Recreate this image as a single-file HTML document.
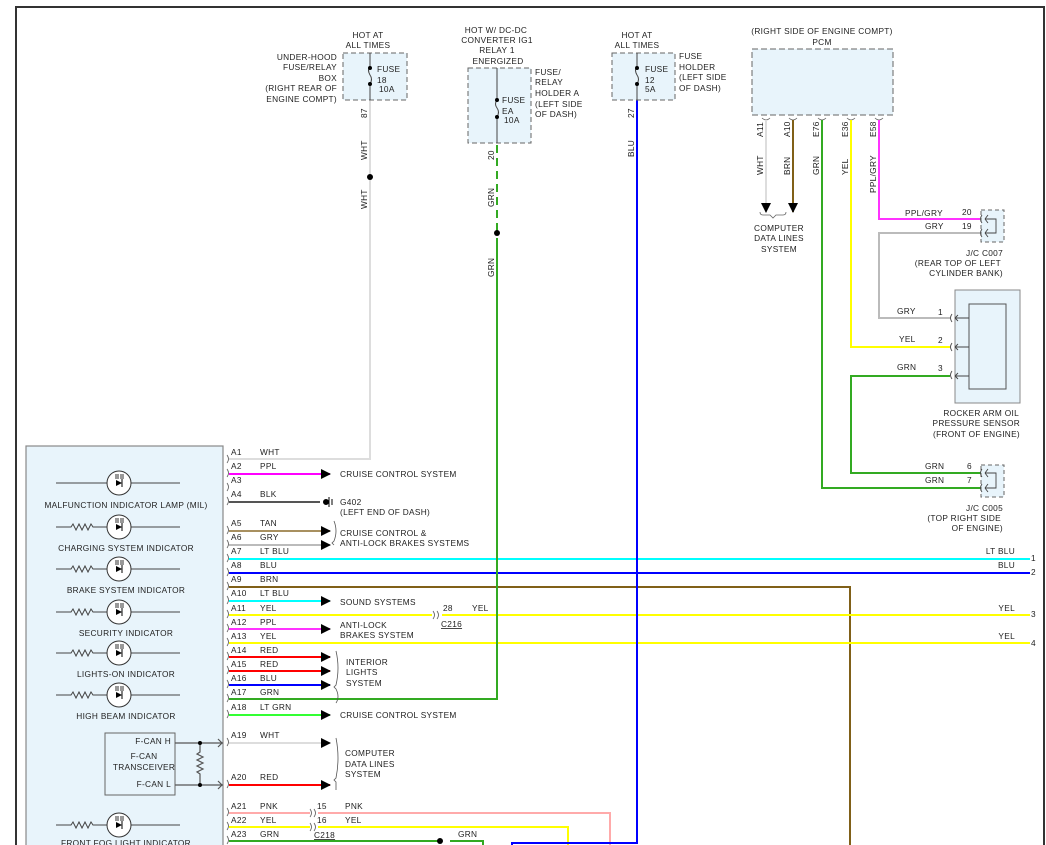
<!DOCTYPE html>
<html><head><meta charset="utf-8"><style>
html,body{margin:0;padding:0;background:#fff;}
svg{display:block;}
text{font-family:"Liberation Sans",sans-serif;font-size:8.3px;fill:#222;letter-spacing:0.3px;}
</style></head><body>
<svg width="1046" height="845" viewBox="0 0 1046 845" xmlns="http://www.w3.org/2000/svg">
<defs>
<marker id="ar" markerWidth="10" markerHeight="10" refX="9" refY="5" orient="auto" markerUnits="userSpaceOnUse"><path d="M0,0 L10,5 L0,10 Z" fill="#000"/></marker>
<g id="led"><circle r="12" fill="none" stroke="#333" stroke-width="1"/><path d="M-3,-3 L3,0 L-3,3 Z" fill="#000"/><line x1="3" y1="-4" x2="3" y2="4" stroke="#000"/><path d="M-3,-9 v5 M-1,-9 v5 M2,-9 v5 M4,-9 v5" stroke="#000" stroke-width="0.8"/></g>
</defs>
<!-- frame -->
<path d="M16,845 V7 H1044 V845" fill="none" stroke="#333" stroke-width="2"/>

<!-- left module -->
<rect x="26" y="446" width="197" height="405" fill="#e8f4fb" stroke="#888" stroke-width="1.2"/>
<g stroke="#444" stroke-width="1" fill="none">
<line x1="56" y1="483" x2="180" y2="483"/>
<path d="M56,527 H71 l2,-3 3,6 3,-6 3,6 3,-6 3,6 3,-6 2,3 H180"/>
<path d="M56,569 H71 l2,-3 3,6 3,-6 3,6 3,-6 3,6 3,-6 2,3 H180"/>
<path d="M56,612 H71 l2,-3 3,6 3,-6 3,6 3,-6 3,6 3,-6 2,3 H180"/>
<path d="M56,653 H71 l2,-3 3,6 3,-6 3,6 3,-6 3,6 3,-6 2,3 H180"/>
<path d="M56,695 H71 l2,-3 3,6 3,-6 3,6 3,-6 3,6 3,-6 2,3 H180"/>
<path d="M56,825 H71 l2,-3 3,6 3,-6 3,6 3,-6 3,6 3,-6 2,3 H180"/>
</g>
<g fill="#fff"><circle cx="119" cy="483" r="12"/><circle cx="119" cy="527" r="12"/><circle cx="119" cy="569" r="12"/><circle cx="119" cy="612" r="12"/><circle cx="119" cy="653" r="12"/><circle cx="119" cy="695" r="12"/><circle cx="119" cy="825" r="12"/></g>
<use href="#led" x="119" y="483"/><use href="#led" x="119" y="527"/><use href="#led" x="119" y="569"/><use href="#led" x="119" y="612"/><use href="#led" x="119" y="653"/><use href="#led" x="119" y="695"/><use href="#led" x="119" y="825"/>
<g text-anchor="middle">
<text x="126" y="508">MALFUNCTION INDICATOR LAMP (MIL)</text>
<text x="126" y="551">CHARGING SYSTEM INDICATOR</text>
<text x="126" y="593">BRAKE SYSTEM INDICATOR</text>
<text x="126" y="636">SECURITY INDICATOR</text>
<text x="126" y="677">LIGHTS-ON INDICATOR</text>
<text x="126" y="719">HIGH BEAM INDICATOR</text>
<text x="126" y="846">FRONT FOG LIGHT INDICATOR</text>
</g>
<rect x="105" y="733" width="70" height="62" fill="#e8f4fb" stroke="#666"/>
<text x="171" y="744" text-anchor="end">F-CAN H</text>
<text x="144" y="759" text-anchor="middle">F-CAN</text>
<text x="144" y="770" text-anchor="middle">TRANSCEIVER</text>
<text x="171" y="787" text-anchor="end">F-CAN L</text>
<g stroke="#555" stroke-width="1.2" fill="none">
<line x1="175" y1="743" x2="223" y2="743"/><line x1="175" y1="785" x2="223" y2="785"/>
<path d="M200,743 V752 l-3,2 6,3 -6,3 6,3 -6,3 6,3 -6,3 3,2 V785"/>
<path d="M218,739 l4,4 -4,4 M218,781 l4,4 -4,4"/>
</g>
<circle cx="200" cy="743" r="2" fill="#000"/><circle cx="200" cy="785" r="2" fill="#000"/>

<!-- pin brackets -->
<g stroke="#555" fill="none" stroke-width="0.8">
<path d="M227,455 q3,4 0,8 M227,469 q3,4 0,8 M227,483 q3,4 0,8 M227,497 q3,4 0,8 M227,526 q3,4 0,8 M227,540 q3,4 0,8 M227,554 q3,4 0,8 M227,568 q3,4 0,8 M227,582 q3,4 0,8 M227,596 q3,4 0,8 M227,610 q3,4 0,8 M227,624 q3,4 0,8 M227,638 q3,4 0,8 M227,652 q3,4 0,8 M227,666 q3,4 0,8 M227,680 q3,4 0,8 M227,694 q3,4 0,8 M227,710 q3,4 0,8 M227,738 q3,4 0,8 M227,780 q3,4 0,8 M227,808 q3,4 0,8 M227,822 q3,4 0,8 M227,836 q3,4 0,8"/>
</g>
<!-- pin labels -->
<g>
<text x="231" y="455">A1</text><text x="260" y="455">WHT</text>
<text x="231" y="469">A2</text><text x="260" y="469">PPL</text>
<text x="231" y="483">A3</text>
<text x="231" y="497">A4</text><text x="260" y="497">BLK</text>
<text x="231" y="526">A5</text><text x="260" y="526">TAN</text>
<text x="231" y="540">A6</text><text x="260" y="540">GRY</text>
<text x="231" y="554">A7</text><text x="260" y="554">LT BLU</text>
<text x="231" y="568">A8</text><text x="260" y="568">BLU</text>
<text x="231" y="582">A9</text><text x="260" y="582">BRN</text>
<text x="231" y="596">A10</text><text x="260" y="596">LT BLU</text>
<text x="231" y="611">A11</text><text x="260" y="611">YEL</text>
<text x="231" y="625">A12</text><text x="260" y="625">PPL</text>
<text x="231" y="639">A13</text><text x="260" y="639">YEL</text>
<text x="231" y="653">A14</text><text x="260" y="653">RED</text>
<text x="231" y="667">A15</text><text x="260" y="667">RED</text>
<text x="231" y="681">A16</text><text x="260" y="681">BLU</text>
<text x="231" y="695">A17</text><text x="260" y="695">GRN</text>
<text x="231" y="710">A18</text><text x="260" y="710">LT GRN</text>
<text x="231" y="738">A19</text><text x="260" y="738">WHT</text>
<text x="231" y="780">A20</text><text x="260" y="780">RED</text>
<text x="231" y="809">A21</text><text x="260" y="809">PNK</text>
<text x="231" y="823">A22</text><text x="260" y="823">YEL</text>
<text x="231" y="837">A23</text><text x="260" y="837">GRN</text>
</g>

<!-- wires -->
<g fill="none" stroke-width="2">
<path d="M229,459 H370 V100" stroke="#ddd"/>
<path d="M229,474 H330" stroke="#ff00ff" marker-end="url(#ar)"/>
<path d="M229,502 H320" stroke="#555"/>
<path d="M229,531 H330" stroke="#a89060" marker-end="url(#ar)"/>
<path d="M229,545 H330" stroke="#bbb" marker-end="url(#ar)"/>
<path d="M229,559 H1030" stroke="#00ffff"/>
<path d="M229,573 H1030" stroke="#0000ff"/>
<path d="M229,587 H850 V845" stroke="#806018"/>
<path d="M229,601 H330" stroke="#00ffff" marker-end="url(#ar)"/>
<path d="M229,615 H432 M442,615 H1030" stroke="#ffff00"/>
<path d="M229,629 H330" stroke="#ff33ff" marker-end="url(#ar)"/>
<path d="M229,643 H1030" stroke="#ffff00"/>
<path d="M229,657 H330" stroke="#ff0000" marker-end="url(#ar)"/>
<path d="M229,671 H330" stroke="#ff0000" marker-end="url(#ar)"/>
<path d="M229,685 H330" stroke="#0000ff" marker-end="url(#ar)"/>
<path d="M229,699 H497 V238" stroke="#33aa22"/>
<path d="M497,145 V233" stroke="#33aa22" stroke-dasharray="8,5"/>
<path d="M229,715 H330" stroke="#33ff33" marker-end="url(#ar)"/>
<path d="M229,743 H330" stroke="#ddd" marker-end="url(#ar)"/>
<path d="M229,785 H330" stroke="#ff0000" marker-end="url(#ar)"/>
<path d="M229,813 H310 M318,813 H610 V845" stroke="#ffaaaa"/>
<path d="M229,827 H310 M318,827 H568 V845" stroke="#ffff00"/>
<path d="M229,841 H440 M450,841 H483 V845" stroke="#33aa22"/>
<path d="M512,845 V843 H637 V100" stroke="#0000ff"/>
<path d="M370,100 V459" stroke="#ddd" stroke-dasharray="8,5"/>
</g>
<circle cx="370" cy="177" r="3" fill="#000"/>
<circle cx="497" cy="233" r="3" fill="#000"/>
<circle cx="440" cy="841" r="3" fill="#000"/>
<!-- ground -->
<g stroke="#000" stroke-width="1"><circle cx="326" cy="502" r="2.5" fill="#000"/><line x1="329" y1="497" x2="329" y2="507"/><line x1="332" y1="499" x2="332" y2="505"/></g>
<!-- inline connector marks -->
<g stroke="#555" fill="none" stroke-width="0.8">
<path d="M433,611 q3,4 0,8 M437,611 q3,4 0,8 M310,809 q3,4 0,8 M314,809 q3,4 0,8 M310,823 q3,4 0,8 M314,823 q3,4 0,8"/>
<path d="M334,521 q4,10 0,20 l-2,2 2,2 M336,651 q4,17 0,34 l-2,2 2,2 q4,8 0,14 M336,738 q4,20 0,40 l-2,2 2,2 q-0,5 0,8"/>
</g>
<text x="340" y="477">CRUISE CONTROL SYSTEM</text>
<text x="340" y="505">G402</text><text x="340" y="515">(LEFT END OF DASH)</text>
<text x="340" y="536">CRUISE CONTROL &amp;</text><text x="340" y="546">ANTI-LOCK BRAKES SYSTEMS</text>
<text x="340" y="605">SOUND SYSTEMS</text>
<text x="443" y="611">28</text><text x="472" y="611">YEL</text><text x="441" y="627" text-decoration="underline">C216</text>
<text x="340" y="628">ANTI-LOCK</text><text x="340" y="638">BRAKES SYSTEM</text>
<text x="346" y="665">INTERIOR</text><text x="346" y="675">LIGHTS</text><text x="346" y="686">SYSTEM</text>
<text x="340" y="718">CRUISE CONTROL SYSTEM</text>
<text x="345" y="756">COMPUTER</text><text x="345" y="767">DATA LINES</text><text x="345" y="777">SYSTEM</text>
<text x="317" y="809">15</text><text x="345" y="809">PNK</text>
<text x="317" y="823">16</text><text x="345" y="823">YEL</text>
<text x="314" y="838" text-decoration="underline">C218</text>
<text x="458" y="837">GRN</text>
<g text-anchor="end">
<text x="1015" y="554">LT BLU</text><text x="1015" y="568">BLU</text>
<text x="1015" y="611">YEL</text><text x="1015" y="639">YEL</text>
</g>
<text x="1031" y="561">1</text><text x="1031" y="575">2</text><text x="1031" y="617">3</text><text x="1031" y="646">4</text>

<!-- fuse 18 -->
<rect x="343" y="53" width="64" height="47" fill="#e8f4fb" stroke="#666" stroke-dasharray="5,3"/>
<path d="M370,53 V66 M370,84 V100" stroke="#444"/><path d="M370,66 q-3,4 0,9 q3,4 0,9" stroke="#444" fill="none"/>
<circle cx="370" cy="68" r="2" fill="#000"/><circle cx="370" cy="84" r="2" fill="#000"/>
<text x="377" y="72">FUSE</text><text x="377" y="83">18</text><text x="379" y="92">10A</text>
<g text-anchor="middle"><text x="368" y="38">HOT AT</text><text x="368" y="48">ALL TIMES</text></g>
<g text-anchor="end"><text x="337" y="60">UNDER-HOOD</text><text x="337" y="70">FUSE/RELAY</text><text x="337" y="81">BOX</text><text x="337" y="91">(RIGHT REAR OF</text><text x="337" y="102">ENGINE COMPT)</text></g>
<g transform="rotate(-90)"><text x="-118" y="367">87</text><text x="-160" y="367">WHT</text><text x="-209" y="367">WHT</text>
<text x="-160" y="494">20</text><text x="-207" y="494">GRN</text><text x="-277" y="494">GRN</text>
<text x="-118" y="634">27</text><text x="-157" y="634">BLU</text></g>

<!-- fuse EA -->
<rect x="468" y="68" width="63" height="75" fill="#e8f4fb" stroke="#666" stroke-dasharray="5,3"/>
<path d="M497,68 V100 M497,117 V143" stroke="#444"/><path d="M497,100 q-3,4 0,8 q3,4 0,9" stroke="#444" fill="none"/>
<circle cx="497" cy="100" r="2" fill="#000"/><circle cx="497" cy="117" r="2" fill="#000"/>
<text x="502" y="103">FUSE</text><text x="502" y="114">EA</text><text x="504" y="123">10A</text>
<g text-anchor="middle"><text x="496" y="33">HOT W/ DC-DC</text><text x="497" y="43">CONVERTER IG1</text><text x="497" y="53">RELAY 1</text><text x="498" y="64">ENERGIZED</text></g>
<text x="535" y="75">FUSE/</text><text x="535" y="85">RELAY</text><text x="535" y="96">HOLDER A</text><text x="535" y="107">(LEFT SIDE</text><text x="535" y="117">OF DASH)</text>

<!-- fuse 12 -->
<rect x="612" y="53" width="63" height="47" fill="#e8f4fb" stroke="#666" stroke-dasharray="5,3"/>
<path d="M637,53 V66 M637,84 V100" stroke="#444"/><path d="M637,66 q-3,4 0,9 q3,4 0,9" stroke="#444" fill="none"/>
<circle cx="637" cy="68" r="2" fill="#000"/><circle cx="637" cy="84" r="2" fill="#000"/>
<text x="645" y="72">FUSE</text><text x="645" y="83">12</text><text x="645" y="92">5A</text>
<g text-anchor="middle"><text x="637" y="38">HOT AT</text><text x="637" y="48">ALL TIMES</text></g>
<text x="679" y="59">FUSE</text><text x="679" y="70">HOLDER</text><text x="679" y="80">(LEFT SIDE</text><text x="679" y="91">OF DASH)</text>

<!-- PCM -->
<g text-anchor="middle"><text x="822" y="34">(RIGHT SIDE OF ENGINE COMPT)</text><text x="822" y="45">PCM</text></g>
<rect x="752" y="49" width="141" height="66" fill="#e8f4fb" stroke="#666" stroke-dasharray="6,3"/>
<g stroke="#666" fill="none" stroke-width="0.8"><path d="M762,118 q4,4 8,0 M789,118 q4,4 8,0 M818,118 q4,4 8,0 M847,118 q4,4 8,0 M875,118 q4,4 8,0"/>
<path d="M760,212 q0,3 3,3 h7 l3,3 3,-3 h7 q3,0 3,-3"/></g>
<g fill="none" stroke-width="2">
<path d="M766,120 V212" stroke="#ddd" marker-end="url(#ar)"/>
<path d="M793,120 V212" stroke="#806018" marker-end="url(#ar)"/>
<path d="M822,120 V488 H983" stroke="#33aa22"/>
<path d="M851,120 V347 H950" stroke="#ffff00"/>
<path d="M879,120 V219 H980" stroke="#ff33ff"/>
<path d="M980,233 H879 V318 H950" stroke="#bbb"/>
<path d="M950,376 H851 V473 H983" stroke="#33aa22"/>
</g>
<g transform="rotate(-90)">
<text x="-137" y="763">A11</text><text x="-175" y="763">WHT</text>
<text x="-137" y="790">A10</text><text x="-175" y="790">BRN</text>
<text x="-137" y="819">E76</text><text x="-175" y="819">GRN</text>
<text x="-137" y="848">E36</text><text x="-175" y="848">YEL</text>
<text x="-137" y="876">E58</text><text x="-193" y="876">PPL/GRY</text>
</g>
<g text-anchor="middle"><text x="779" y="231">COMPUTER</text><text x="779" y="241">DATA LINES</text><text x="779" y="252">SYSTEM</text></g>

<!-- C007 -->
<rect x="981" y="210" width="23" height="32" fill="#e8f4fb" stroke="#666" stroke-dasharray="4,3"/>
<g stroke="#444" fill="none" stroke-width="0.9"><path d="M982,215 q-3,4 0,8 M982,229 q-3,4 0,8 M985,219 l3,-4 M985,219 l3,4 M985,233 l3,-4 M985,233 l3,4 M985,219 H996 V233 H985"/></g>
<text x="905" y="216">PPL/GRY</text><text x="962" y="215">20</text>
<text x="925" y="229">GRY</text><text x="962" y="229">19</text>
<g text-anchor="end"><text x="1003" y="256">J/C C007</text><text x="1001" y="266">(REAR TOP OF LEFT</text><text x="1003" y="276">CYLINDER BANK)</text></g>

<!-- sensor -->
<rect x="955" y="290" width="65" height="113" fill="#e8f4fb" stroke="#888"/>
<rect x="969" y="304" width="37" height="85" fill="#e8f4fb" stroke="#555"/>
<g stroke="#444" fill="none" stroke-width="0.9"><path d="M952,314 q-3,4 0,8 M952,343 q-3,4 0,8 M952,371 q-3,4 0,8 M955,318 l3,-3 M955,318 l3,3 M955,347 l3,-3 M955,347 l3,3 M955,376 l3,-3 M955,376 l3,3 M955,318 H969 M955,347 H969 M955,376 H969"/></g>
<text x="897" y="314">GRY</text><text x="938" y="315">1</text>
<text x="899" y="342">YEL</text><text x="938" y="343">2</text>
<text x="897" y="370">GRN</text><text x="938" y="371">3</text>
<g text-anchor="end"><text x="1019" y="416">ROCKER ARM OIL</text><text x="1020" y="426">PRESSURE SENSOR</text><text x="1020" y="437">(FRONT OF ENGINE)</text></g>

<!-- C005 -->
<rect x="981" y="465" width="23" height="32" fill="#e8f4fb" stroke="#666" stroke-dasharray="4,3"/>
<g stroke="#444" fill="none" stroke-width="0.9"><path d="M982,469 q-3,4 0,8 M982,484 q-3,4 0,8 M985,473 l3,-4 M985,473 l3,4 M985,488 l3,-4 M985,488 l3,4 M985,473 H996 V488 H985"/></g>
<text x="925" y="469">GRN</text><text x="967" y="469">6</text>
<text x="925" y="483">GRN</text><text x="967" y="483">7</text>
<g text-anchor="end"><text x="1003" y="511">J/C C005</text><text x="1001" y="521">(TOP RIGHT SIDE</text><text x="1003" y="531">OF ENGINE)</text></g>
</svg>
</body></html>
